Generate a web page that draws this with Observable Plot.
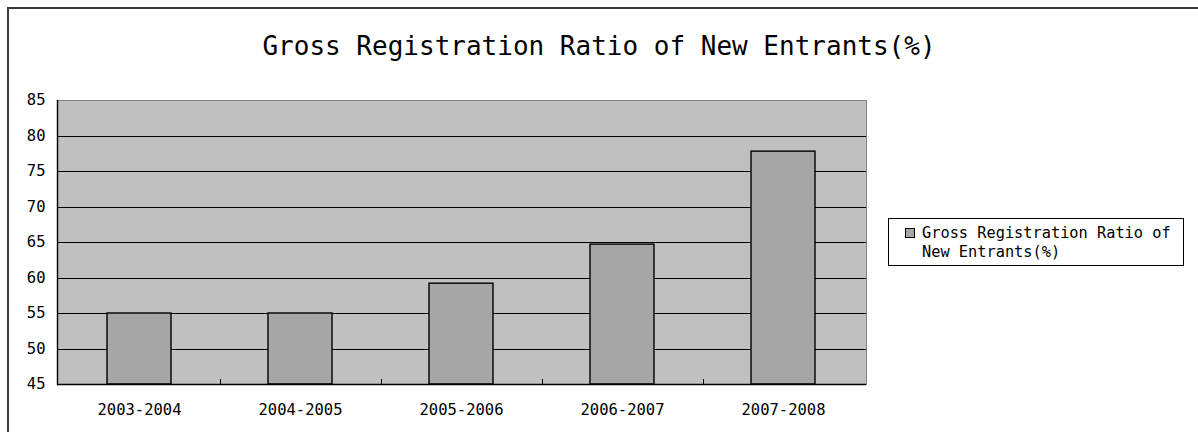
<!DOCTYPE html>
<html>
<head>
<meta charset="utf-8">
<script src="https://cdn.jsdelivr.net/npm/d3@7"></script>
<script src="https://cdn.jsdelivr.net/npm/@observablehq/plot@0.6"></script>
<style>
  html, body { margin: 0; padding: 0; background: #fff; overflow: hidden; width: 1198px; height: 432px; }
  #chartarea { position: absolute; left: 7px; top: 7px; width: 1400px; height: 700px;
    border-left: 2px solid #3a3a3a; border-top: 2px solid #3a3a3a; box-sizing: border-box; }
  #title { position: absolute; left: 0; top: 33px; width: 1198px; text-align: center;
    font-family: "DejaVu Sans Mono", monospace; font-size: 26px; line-height: 26px; color: #000; }
  #plot { position: absolute; left: 0; top: 80px; }
  #legend { position: absolute; left: 888px; top: 218px; width: 296px; height: 48px; box-sizing: border-box;
    border: 1px solid #000; background: #fff; font-family: "DejaVu Sans Mono", monospace; font-size: 15.3px;
    line-height: 19px; color: #000; }
  #legend .swatch { position: absolute; left: 16px; top: 9px; width: 10px; height: 10px; box-sizing: border-box;
    background: #a6a6a6; border: 1px solid #000; }
  #legend .label { position: absolute; left: 33px; top: 5px; white-space: pre; }
</style>
</head>
<body>
<div id="chartarea"></div>
<div id="title"></div>
<div id="plot"></div>
<div id="legend"><div class="swatch"></div><div class="label"></div></div>
<script>
// Gross registration ratio of new entrants, by school year (%)
const chartTitle = "Gross Registration Ratio of New Entrants(%)";
const seriesName = "Gross Registration Ratio of\nNew Entrants(%)";
const periods = ["2003-2004", "2004-2005", "2005-2006", "2006-2007", "2007-2008"];
const ratios = [55.0, 55.0, 59.2, 64.7, 77.8];
const yTicks = [45, 50, 55, 60, 65, 70, 75, 80, 85];

const data = periods.map((period, i) => ({period, ratio: ratios[i]}));

document.getElementById("title").textContent = chartTitle;
document.querySelector("#legend .label").textContent = seriesName;

const width = 880, marginLeft = 57, marginRight = 14;
const step = (width - marginLeft - marginRight) / periods.length;

const chart = Plot.plot({
  width,
  height: 352,
  marginLeft,
  marginRight,
  marginTop: 20,
  marginBottom: 48,
  style: {fontFamily: "DejaVu Sans Mono, monospace", fontSize: "15px", color: "#000", background: "transparent"},
  x: {type: "band", domain: periods, paddingInner: 0.6, paddingOuter: 0.3, label: null},
  y: {domain: [45, 85], label: null},
  marks: [
    // plot area
    Plot.frame({fill: "#c0c0c0", stroke: "#808080", shapeRendering: "crispEdges"}),
    // horizontal gridlines
    Plot.ruleY(yTicks.slice(1, -1), {stroke: "#000", strokeWidth: 1, shapeRendering: "crispEdges"}),
    // bars
    Plot.barY(data, {x: "period", y1: 45, y2: "ratio", fill: "#a6a6a6", stroke: "#000", strokeWidth: 1.4}),
    // axis lines
    Plot.ruleY([45], {stroke: "#000", strokeWidth: 1.4}),
    Plot.frame({anchor: "left", stroke: "#000", strokeWidth: 1.4}),
    // category separator ticks on the x axis
    Plot.ruleX(periods.slice(0, -1), {x: (d) => d, y1: 45, y2: 45.7, dx: step / 2, stroke: "#000", shapeRendering: "crispEdges"}),
    Plot.axisY({ticks: yTicks, tickSize: 0, tickPadding: 12, fontSize: 15.5, label: null}),
    Plot.axisX({tickSize: 0, tickPadding: 19, fontSize: 15.5, label: null})
  ]
});
document.getElementById("plot").append(chart);
</script>
</body>
</html>
